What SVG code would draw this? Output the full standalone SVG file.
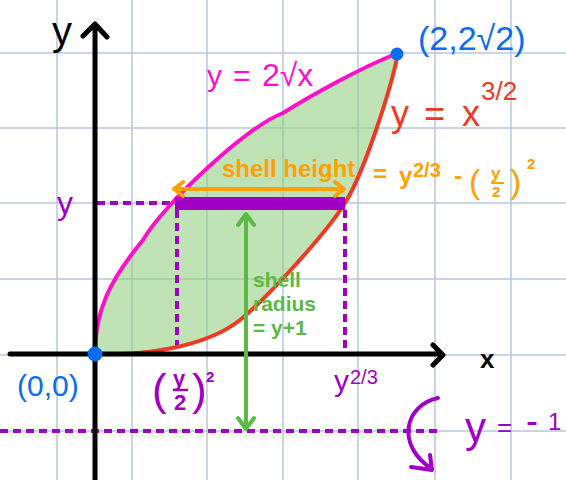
<svg xmlns="http://www.w3.org/2000/svg" width="566" height="480" viewBox="0 0 566 480">
<defs>
<style>
.grid{stroke:#b6c8e0;stroke-width:1.5;fill:none}
.axis{stroke:#000;stroke-width:5;fill:none;stroke-linecap:round;stroke-linejoin:round}
.dash{stroke:#a000c4;stroke-width:4;stroke-dasharray:8 5;fill:none}
.t{font-family:"Liberation Sans",Arial,sans-serif}
.blue{fill:#0a6cf0}
.pink{fill:#ff10c8}
.red{fill:#ee3a24}
.purple{fill:#a000c4}
.orange{fill:#ffa000;font-weight:bold}
.green{fill:#5cb944;font-weight:bold}
</style>
<marker id="chevO" viewBox="-12 -10 14 20" markerWidth="14" markerHeight="20" refX="0" refY="0" orient="auto-start-reverse" markerUnits="userSpaceOnUse">
<path d="M-9,-7 L0,0 L-9,7" fill="none" stroke="#ffa000" stroke-width="4" stroke-linecap="round" stroke-linejoin="round"/>
</marker>
<marker id="chevG" viewBox="-14 -10 16 20" markerWidth="16" markerHeight="20" refX="0" refY="0" orient="auto-start-reverse" markerUnits="userSpaceOnUse">
<path d="M-11,-8 L0,0 L-11,8" fill="none" stroke="#5cb944" stroke-width="4" stroke-linecap="round" stroke-linejoin="round"/>
</marker>
</defs>
<rect width="566" height="480" fill="#fff"/>
<g id="grid" class="grid">
<path d="M57,0V480M132,0V480M207,0V480M283,0V480M358,0V480M435,0V480M511,0V480"/>
<path d="M0,53H566M0,128H566M0,203H566M0,279H566M0,355H566M0,431H566"/>
</g>
<g id="region">
<path d="M95,354 C95,310 110,280 143,240 C163,205 245,128 283,113 C310,96 360,68 398,53 C392,85 365,171 345,203 C325,235 265,300 240,320 C205,348 140,356 95,354 Z" fill="#8ccc7a" fill-opacity="0.55"/>
</g>
<g id="guides">
<path class="dash" d="M97,203H177"/>
<path class="dash" d="M177,210V354"/>
<path class="dash" d="M345,210V354"/>
<path class="dash" d="M0,431H438"/>
</g>
<g id="curves">
<path id="curve-sqrt" d="M95,354 C95,310 110,280 143,240 C163,205 245,128 283,113 C310,96 360,68 398,53" fill="none" stroke="#ff10c8" stroke-width="4" stroke-linecap="round"/>
<path id="curve-pow" d="M95,354 C140,356 205,348 240,320 C265,300 325,235 345,203 C365,171 392,85 398,53" fill="none" stroke="#ee3a24" stroke-width="4" stroke-linecap="round"/>
</g>
<g id="axes">
<path class="axis" d="M95,480V25M83,36L95,24L107,37"/>
<path class="axis" d="M10,354H442M433,345L443,355L433,365"/>
</g>
<g id="connectors">
<rect id="shell-bar" x="175" y="197" width="170" height="13" fill="#a000c4"/>
<path id="height-arrow" d="M174,189H344" stroke="#ffa000" stroke-width="4" fill="none" marker-start="url(#chevO)" marker-end="url(#chevO)"/>
<path id="radius-arrow" d="M246,214V429" stroke="#5cb944" stroke-width="4" fill="none" marker-start="url(#chevG)" marker-end="url(#chevG)"/>
<path id="rotation-arrow" d="M438,398 C405,405 395,445 432,469 M430,455 L432,470 L411,467" stroke="#a000c4" stroke-width="4" fill="none" stroke-linecap="round" stroke-linejoin="round"/>
</g>
<g id="points">
<circle cx="95" cy="354" r="7.5" fill="#0a6cf0"/>
<circle cx="397" cy="54" r="6.5" fill="#0a6cf0"/>
</g>
<g id="labels" class="t">
<text x="52" y="45" font-size="40" fill="#000">y</text>
<text x="480" y="368" font-size="26" font-weight="bold" fill="#000">x</text>
<text class="blue" x="418" y="50" font-size="34">(2,2√2)</text>
<text class="blue" x="17" y="396" font-size="30">(0,0)</text>
<text class="pink" y="86" font-size="30"><tspan x="207">y</tspan><tspan x="233">=</tspan><tspan x="262" font-size="32">2√x</tspan></text>
<text class="red" y="126" font-size="36"><tspan x="391">y</tspan><tspan x="424">=</tspan><tspan x="462">x</tspan><tspan x="481" y="100" font-size="26">3/2</tspan></text>
<text class="orange" font-size="24"><tspan x="222" y="177">shell height</tspan><tspan x="373" y="182">=</tspan><tspan x="399" y="184">y</tspan><tspan x="413" y="177" font-size="20">2/3</tspan><tspan x="454" y="184">-</tspan><tspan x="469" y="193" font-size="34" font-weight="normal">(</tspan><tspan x="491" y="179" font-size="17">y</tspan><tspan x="492" y="197" font-size="15">2</tspan><tspan x="510" y="193" font-size="34" font-weight="normal">)</tspan><tspan x="527" y="169" font-size="15">2</tspan></text>
<path d="M491,183H504" stroke="#ffa000" stroke-width="2"/>
<text class="green" font-size="21"><tspan x="253" y="287">shell</tspan><tspan x="253" y="311">radius</tspan><tspan x="253" y="335">= y+1</tspan></text>
<text class="purple" x="57" y="214" font-size="32">y</text>
<text class="purple" font-size="22" font-weight="bold"><tspan x="152" y="405" font-size="44" font-weight="normal">(</tspan><tspan x="173" y="386">y</tspan><tspan x="174" y="410">2</tspan><tspan x="192" y="405" font-size="44" font-weight="normal">)</tspan><tspan x="206" y="382" font-size="15">2</tspan></text>
<path d="M173,390H188" stroke="#a000c4" stroke-width="2.5"/>
<text class="purple" font-size="30"><tspan x="334" y="391">y</tspan><tspan x="350" y="384" font-size="20">2/3</tspan></text>
<text class="purple"><tspan x="465" y="442" font-size="42">y</tspan><tspan x="497" y="436" font-size="26">=</tspan><tspan x="526" y="433" font-size="36">-</tspan><tspan x="548" y="430" font-size="24">1</tspan></text>
</g>
</svg>
